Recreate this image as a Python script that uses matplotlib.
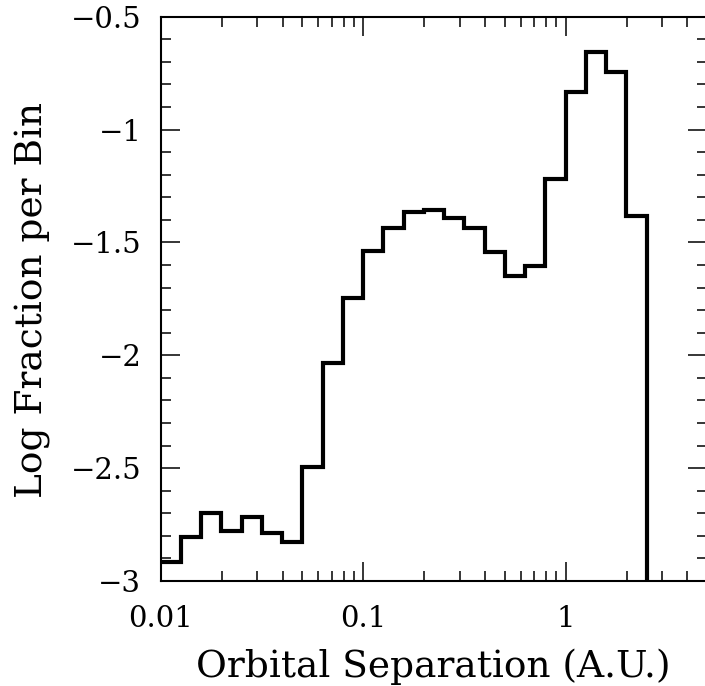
import numpy as np
import matplotlib
matplotlib.use("Agg")
import matplotlib.pyplot as plt
from matplotlib.ticker import MultipleLocator, LogLocator, NullFormatter

# bin edges in log10(a / AU), 0.1 dex wide
log_edges = np.round(np.arange(-2.0, 0.41, 0.1), 2)
# log fraction per bin
log_frac = [-2.915, -2.804, -2.700, -2.779, -2.718, -2.785, -2.826, -2.497,
            -2.036, -1.745, -1.537, -1.438, -1.367, -1.357, -1.394, -1.434,
            -1.541, -1.648, -1.605, -1.219, -0.835, -0.655, -0.744, -1.383]
floor = -3.2  # the last bin drops off the bottom of the plot

ytick_vals = [-0.5, -1, -1.5, -2, -2.5, -3]
xtick_vals = [0.01, 0.1, 1]
xtick_labels = ['0.01', '0.1', '1']

plt.rcParams['font.family'] = 'DejaVu Serif'

fig = plt.figure(figsize=(7.05, 6.86), dpi=100)
ax = fig.add_axes([0.228, 0.153, 0.775, 0.8227])

edges = 10.0 ** log_edges
xs = np.concatenate([[edges[0]], np.repeat(edges[1:-1], 2), [edges[-1], edges[-1]]])
ys = np.concatenate([np.repeat(log_frac, 2), [floor]])
ax.plot(xs, ys, color='black', lw=3.0, solid_joinstyle='miter')

ax.set_xscale('log')
ax.set_xlim(0.01, 5)
ax.set_ylim(-3, -0.5)

ax.set_xticks(xtick_vals)
ax.set_xticklabels(xtick_labels)
ax.xaxis.set_minor_locator(LogLocator(base=10, subs=np.arange(2, 10)))
ax.xaxis.set_minor_formatter(NullFormatter())

ax.set_yticks(ytick_vals)
ax.set_yticklabels([('%g' % v).replace('-', '\u2212') for v in ytick_vals])
ax.yaxis.set_minor_locator(MultipleLocator(0.1))

ax.tick_params(which='both', direction='in', top=True, right=True,
               width=1.1, labelsize=21)
ax.tick_params(axis='x', pad=17)
ax.tick_params(axis='y', pad=14)
ax.tick_params(which='major', length=14)
ax.tick_params(which='minor', length=7)
for s in ax.spines.values():
    s.set_linewidth(1.5)

ax.set_xlabel('Orbital Separation (A.U.)', fontsize=27)
ax.set_ylabel('Log Fraction per Bin', fontsize=27)
ax.xaxis.set_label_coords(0.498, -0.12)
ax.yaxis.set_label_coords(-0.2, 0.498)

fig.savefig('out.png', dpi=100)
